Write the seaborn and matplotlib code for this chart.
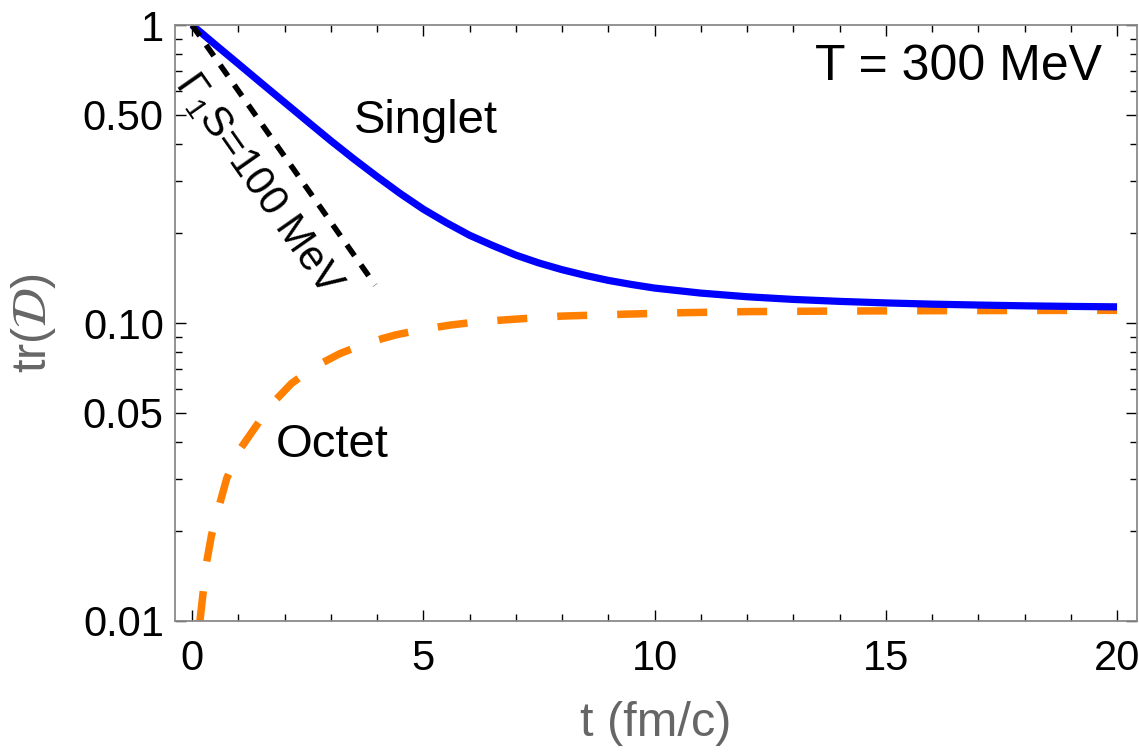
import matplotlib
matplotlib.use("Agg")
import matplotlib.pyplot as plt
import seaborn as sns
from matplotlib.ticker import MultipleLocator, NullFormatter

# Colour-singlet trace tr(D) versus time t (fm/c)
t_singlet = [0, 0.5, 1, 1.5, 2, 2.5, 3, 3.5, 4, 4.5, 5, 5.5, 6, 6.5, 7, 7.5,
             8, 8.5, 9, 9.5, 10, 11, 12, 13, 14, 15, 16, 17, 18, 19, 20]
singlet = [1.0, 0.860, 0.741, 0.638, 0.550, 0.474, 0.409, 0.355, 0.310, 0.272,
           0.241, 0.217, 0.197, 0.182, 0.169, 0.159, 0.151, 0.1445, 0.139,
           0.1347, 0.131, 0.126, 0.1225, 0.120, 0.1182, 0.1168, 0.1157,
           0.1149, 0.1142, 0.1137, 0.1133]

# Colour-octet trace
t_octet = [0.17, 0.31, 0.42, 0.6, 0.75, 1.0, 1.35, 1.7, 2.15, 2.65, 3.2, 3.8,
           4.4, 5.0, 5.6, 6.2, 6.9, 8.0, 9.3, 10.6, 12, 14, 16, 18, 20]
octet = [0.0100, 0.0156, 0.0194, 0.0248, 0.0301, 0.037, 0.0443, 0.053, 0.0627,
         0.0713, 0.0790, 0.0859, 0.0912, 0.0953, 0.0985, 0.1010, 0.1028,
         0.1055, 0.1070, 0.1083, 0.1092, 0.1097, 0.1100, 0.1102, 0.1103]

# Reference decay with Gamma_1S = 100 MeV
t_gamma = [0.0, 3.96]
gamma_decay = [1.0, 0.134]

x_major = [0, 5, 10, 15, 20]
y_major = [0.01, 0.05, 0.1, 0.5, 1]
y_major_labels = ["0.01", "0.05", "0.10", "0.50", "1"]
y_minor = [0.02, 0.03, 0.04, 0.06, 0.07, 0.08, 0.09,
           0.2, 0.3, 0.4, 0.6, 0.7, 0.8, 0.9]

sns.set_style("ticks")
plt.rcParams["font.family"] = ["Liberation Sans", "DejaVu Sans"]
plt.rcParams["mathtext.fontset"] = "custom"
plt.rcParams["mathtext.rm"] = "Liberation Sans"
plt.rcParams["mathtext.it"] = "Liberation Sans:italic"
plt.rcParams["mathtext.bf"] = "Liberation Sans:bold"

fig = plt.figure(figsize=(11.39, 7.54), dpi=100)
ax = fig.add_axes([0.1536, 0.1764, 0.8446, 0.7904])
ax.set_yscale("log")

sns.lineplot(x=t_octet, y=octet, ax=ax, color="#FF8000", lw=5.4,
             linestyle=(0, (4.0, 4.0)), dash_capstyle="butt")
sns.lineplot(x=t_singlet, y=singlet, ax=ax, color="#0000FF", lw=5.2,
             solid_capstyle="butt")
sns.lineplot(x=t_gamma, y=gamma_decay, ax=ax, color="black", lw=4,
             linestyle=(0, (2.4, 2.0)), dash_capstyle="butt")

ax.set_xlim(-0.37, 20.43)
ax.set_ylim(0.01, 1)

ax.set_xticks(x_major)
ax.set_xticklabels([str(v) for v in x_major])
ax.xaxis.set_minor_locator(MultipleLocator(1))
ax.set_yticks(y_major)
ax.set_yticklabels(y_major_labels)
ax.set_yticks(y_minor, minor=True)
ax.yaxis.set_minor_formatter(NullFormatter())

ax.tick_params(which="both", direction="in", top=True, right=True,
               color="black", width=1.0, labelsize=30, labelcolor="black")
ax.tick_params(which="major", length=8)
ax.tick_params(which="minor", length=5)
ax.tick_params(axis="x", which="major", pad=13)
ax.tick_params(axis="y", which="major", pad=8)

for side in ax.spines.values():
    side.set_color("#8a8a8a")
    side.set_linewidth(1.3)

ax.set_xlabel("t (fm/c)", fontsize=35, color="#666666", labelpad=16)
ax.set_ylabel(r"tr($\mathcal{D}$)", fontsize=35, color="#666666",
              labelpad=18, math_fontfamily="stix")

ax.text(0.9636, 0.9077, "T = 300 MeV", transform=ax.transAxes,
        ha="right", va="baseline", fontsize=36, color="black")
ax.text(3.49, 0.435, "Singlet", ha="left", va="baseline", fontsize=34,
        color="black")
ax.text(1.80, 0.0355, "Octet", ha="left", va="baseline", fontsize=34,
        color="black")
ax.text(1.44, 0.292, r"$\Gamma_{1}$S=100 MeV", ha="center",
        va="center", rotation=-55, rotation_mode="anchor", fontsize=30,
        color="black")

fig.savefig("out.png", dpi=100)
